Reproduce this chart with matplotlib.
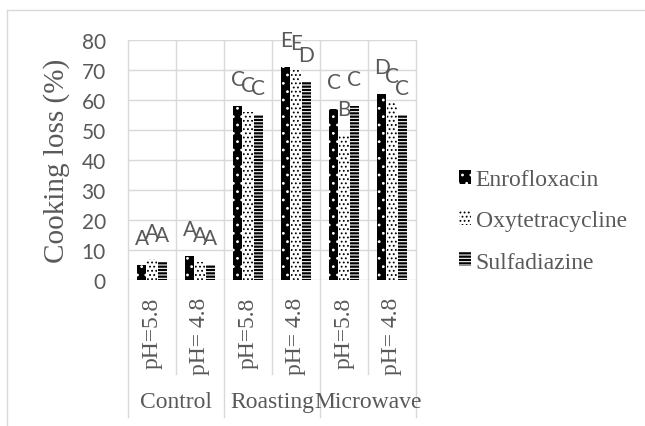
import numpy as np
import matplotlib
matplotlib.use("Agg")
import matplotlib.pyplot as plt
from matplotlib.lines import Line2D

# ------------------------------------
# Data
# ------------------------------------

groups = ["Control", "Roasting", "Microwave"]
ph_labels = ["pH=5.8", "pH= 4.8", "pH=5.8", "pH= 4.8", "pH=5.8", "pH= 4.8"]
series = ["Enrofloxacin", "Oxytetracycline", "Sulfadiazine"]

enro = [5, 8, 58, 71, 57, 62]
oxy = [7, 6, 56, 70, 48, 59]
sulfa = [6, 5, 55, 66, 58, 55]

enro_letters = ["A", "A", "C", "E", "C", "D"]
oxy_letters = ["A", "A", "C", "E", "B", "C"]
sulfa_letters = ["A", "A", "C", "D", "C", "C"]

# ------------------------------------
# Style
# ------------------------------------

grid_c = "#d9d9d9"
text_c = "#595959"
serif = "Liberation Serif"
sans = "Lato"
plt.rcParams["hatch.linewidth"] = 0.8

fig = plt.figure(figsize=(6.45, 4.27), dpi=100)
ax = fig.add_axes([128 / 645, 1 - 281 / 427, 288 / 645, 240 / 427])

x = np.arange(len(ph_labels))
w = 0.19
offs = [-0.21, 0, 0.21]

styles = [
    dict(facecolor="black", edgecolor="white", hatch=".."),
    dict(facecolor="white", edgecolor="black", hatch="...."),
    dict(facecolor="black", edgecolor="white", hatch="-----"),
]

handles = []
for vals, letters, off, st, name in zip(
    [enro, oxy, sulfa],
    [enro_letters, oxy_letters, sulfa_letters],
    offs, styles, series
):
    b = ax.bar(x + off, vals, w, linewidth=0, label=name, zorder=3, **st)
    handles.append(b)
    for xi, v, t in zip(x + off, vals, letters):
        ax.text(xi, v + 5.8, t, ha="center", va="bottom",
                fontsize=15, color=text_c, family=sans, zorder=4)

ax.set_xlim(-0.5, len(ph_labels) - 0.5)
ax.set_ylim(0, 80)
ax.set_yticks(range(0, 81, 10))
ax.tick_params(axis="y", length=0, pad=16, labelsize=15, labelcolor=text_c)
for lab in ax.get_yticklabels():
    lab.set_family(sans)

ax.set_xticks(x)
ax.set_xticklabels(ph_labels, rotation=90, family=serif, fontsize=17,
                   color=text_c)
ax.tick_params(axis="x", length=0, pad=12)

ax.grid(axis="y", color=grid_c, linewidth=1, zorder=0)
for s in ax.spines.values():
    s.set_visible(False)

# category borders (top of plot down through the label table)
trans = ax.get_xaxis_transform()
for b in np.arange(-0.5, len(ph_labels), 1):
    is_group = (b + 0.5) % 2 == 0
    y_end = -0.571 if is_group else -0.392
    ax.plot([b, b], [1, y_end], color=grid_c, linewidth=1,
            transform=trans, clip_on=False, zorder=1)

for i, g in enumerate(groups):
    ax.text(2 * i + 0.5, -0.508, g, transform=trans, ha="center",
            va="center", family=serif, fontsize=17, color=text_c)

ax.set_ylabel("Cooking loss (%)", family=serif, fontsize=21, color=text_c,
              labelpad=8)

leg = fig.legend(handles=handles, loc="center left",
                 bbox_to_anchor=(438 / 645, 1 - 222 / 427), frameon=False,
                 prop={"family": serif, "size": 17}, labelcolor=text_c,
                 handlelength=0.5, handleheight=0.5, handletextpad=0.2,
                 labelspacing=0.85)

# outer chart border
fig.add_artist(Line2D([7 / 645, 1], [1 - 11 / 427, 1 - 11 / 427],
                      color=grid_c, linewidth=1))
fig.add_artist(Line2D([7 / 645, 7 / 645], [0, 1 - 11 / 427],
                      color=grid_c, linewidth=1))

fig.savefig("out.png", dpi=100)
